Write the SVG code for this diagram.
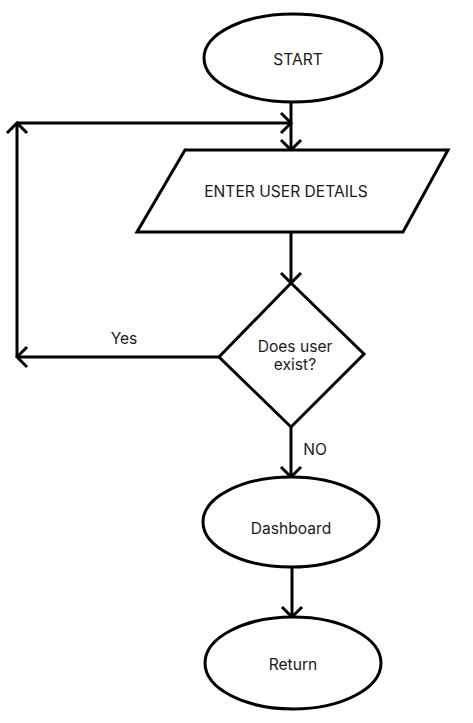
<svg xmlns="http://www.w3.org/2000/svg" width="473" height="723" viewBox="0 0 473 723">
<style>
.shape{fill:#fff;stroke:#000;stroke-width:3}
.conn{fill:none;stroke:#000;stroke-width:3}
text{font-family:Inter,"Liberation Sans",sans-serif;font-size:15.6px;fill:#1a1a1a;text-anchor:middle}
</style>
<defs>
<marker id="arr" markerUnits="userSpaceOnUse" viewBox="-13 -13 15 26" markerWidth="15" markerHeight="26" refX="0" refY="0" orient="auto">
<path d="M-10,-10 L0,0 L-10,10" fill="none" stroke="#000" stroke-width="3"/>
</marker>
</defs>
<g id="connectors">
<line class="conn" x1="291" y1="102" x2="291" y2="150" marker-end="url(#arr)"/>
<line class="conn" x1="291" y1="232" x2="291" y2="283" marker-end="url(#arr)"/>
<line class="conn" x1="219" y1="357" x2="17" y2="357" marker-end="url(#arr)"/>
<line class="conn" x1="17" y1="357" x2="17" y2="123" marker-end="url(#arr)"/>
<line class="conn" x1="17" y1="123" x2="291" y2="123" marker-end="url(#arr)"/>
<line class="conn" x1="291" y1="427" x2="291" y2="477" marker-end="url(#arr)"/>
<line class="conn" x1="292" y1="568" x2="292" y2="617" marker-end="url(#arr)"/>
<text x="124" y="344">Yes</text>
<text x="315" y="455">NO</text>
</g>
<g id="start">
<ellipse class="shape" cx="293" cy="58" rx="89" ry="44"/>
<text x="298" y="65">START</text>
</g>
<g id="enter-details">
<polygon class="shape" points="185,150 448,150 403,232 137,232"/>
<text x="286" y="197">ENTER USER DETAILS</text>
</g>
<g id="decision">
<polygon class="shape" points="291,283 364,354 291,427 219,357"/>
<text x="295" y="352">Does user</text>
<text x="295" y="370">exist?</text>
</g>
<g id="dashboard">
<ellipse class="shape" cx="291" cy="522" rx="88" ry="45"/>
<text x="291" y="534">Dashboard</text>
</g>
<g id="return">
<ellipse class="shape" cx="293" cy="663" rx="88" ry="46"/>
<text x="293" y="670">Return</text>
</g>
</svg>
